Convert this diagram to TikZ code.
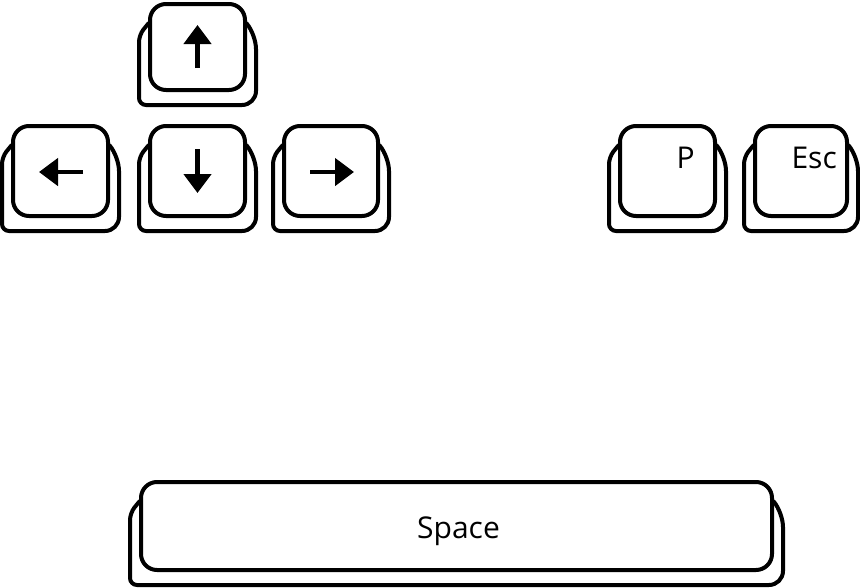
\documentclass[tikz,border=0pt]{standalone}
\usepackage{fontspec}
\setmainfont{Open Sans}
\usepackage{tikz}
\usetikzlibrary{arrows.meta}
\newcommand{\keyShell}[4]{
  \draw[line width=4pt,fill=white] (#1+2,#2+15) [rounded corners=7pt] -- (#1-11,#2+31) -- (#1-11,#4+15) [rounded corners=14pt] -- (#3+11,#4+15) -- (#3+11,#2+31) [rounded corners=7pt] -- (#3-2,#2+15) -- cycle;
  \draw[line width=4pt,fill=white,rounded corners=16pt] (#1,#2) rectangle (#3,#4)
}

\begin{document}
\begin{tikzpicture}[x=1pt,y=-1pt,
  keyarrow/.style={line width=4.5pt,-{Triangle[width=27pt,length=19pt]}},
  keylabel/.style={inner sep=0pt,font=\fontsize{30}{30}\selectfont}]
  \useasboundingbox (0,0) rectangle (860,587);

  \keyShell{150}{4}{245}{90};
  \keyShell{13}{126}{108}{216};
  \keyShell{150}{126}{245}{216};
  \keyShell{284}{126}{378}{216};
  \keyShell{620}{126}{715}{216};
  \keyShell{755}{126}{847}{216};
  \keyShell{141}{482}{772}{570};

  \draw[keyarrow] (197.5,68) -- (197.5,25);
  \draw[keyarrow] (83,172) -- (39,172);
  \draw[keyarrow] (197.5,149) -- (197.5,193);
  \draw[keyarrow] (310,172) -- (354,172);

  \node[keylabel,anchor=base east] (keyP) at (695,168) {P};
  \node[keylabel,anchor=base east] (keyEsc) at (837,168) {Esc};
  \node[keylabel,anchor=base] (keySpace) at (458.5,538) {Space};
\end{tikzpicture}
\end{document}
